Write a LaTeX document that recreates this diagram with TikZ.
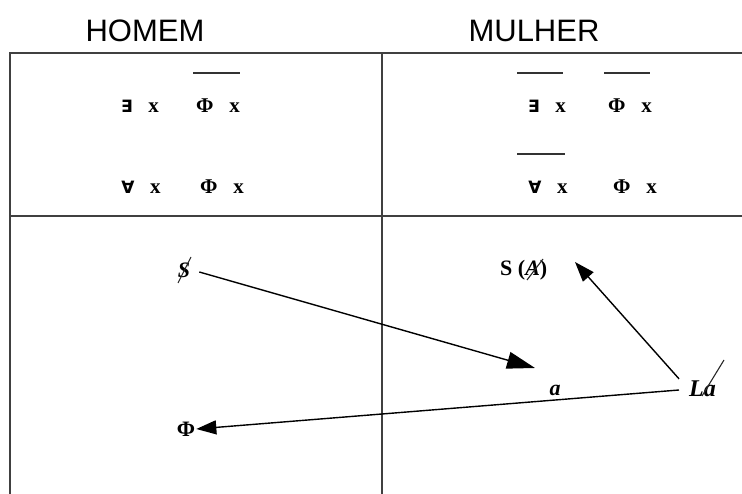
\documentclass[tikz,border=0pt]{standalone}
\usepackage{fontspec}
\setmainfont{Liberation Serif}
\newfontfamily\hdrfont{Liberation Sans}
\newfontfamily\symfont{DejaVu Sans}
\usetikzlibrary{arrows.meta}
\newcommand{\qfont}{\symfont\fontsize{17}{17}\selectfont}
\tikzset{
  grid/.style={draw=black!75,line width=1.6pt},
  hdr/.style={font=\hdrfont\fontsize{31}{31}\selectfont,inner sep=0pt},
  fml/.style={font=\bfseries\fontsize{21}{21}\selectfont,inner sep=0pt},
  bar/.style={draw=black!80,line width=1.3pt},
  lbl/.style={font=\bfseries\fontsize{22}{22}\selectfont,inner sep=1pt},
  arr/.style={draw=black,line width=1.4pt,-{Triangle[length=20pt,width=14pt]}},
  bigarr/.style={draw=black,line width=1.4pt,-{Triangle[length=28pt,width=17pt]}},
  slash/.style={draw=black!85,line width=1.1pt}
}
\begin{document}
\begin{tikzpicture}[x=1pt,y=-1pt]
\useasboundingbox (0,0) rectangle (742,494);
% headers
\node[hdr] (homem) at (145,31) {HOMEM};
\node[hdr] (mulher) at (534,31) {MULHER};
% grid
\coordinate (tl) at (10,53);
\coordinate (tr) at (742,53);
\coordinate (bl) at (10,494);
\coordinate (ml) at (10,216);
\coordinate (mr) at (742,216);
\coordinate (mt) at (382,53);
\coordinate (mb) at (382,494);
\draw[grid] (bl) -- (tl) -- (tr);
\draw[grid] (ml) -- (mr);
\draw[grid] (mt) -- (mb);
% left formulas
\node[fml] (le) at (140,106) {{\qfont ∃}\,\,\, x};
\node[fml] (lp) at (218,106) {Φ\,\,\, x};
\draw[bar] (193,73) -- (240,73);
\node[fml] (la) at (141,187) {{\qfont ∀}\,\,\, x};
\node[fml] (lq) at (222,187) {Φ\,\,\, x};
% right formulas
\node[fml] (re) at (547,106) {{\qfont ∃}\,\,\, x};
\node[fml] (rp) at (630,106) {Φ\,\,\, x};
\draw[bar] (517,73) -- (563,73);
\draw[bar] (604,73) -- (650,73);
\node[fml] (ra) at (548,187) {{\qfont ∀}\,\,\, x};
\node[fml] (rq) at (635,187) {Φ\,\,\, x};
\draw[bar] (517,154) -- (565,154);
% bottom labels
\node[lbl] (S) at (184,270) {\itshape S};
\draw[slash] (178,283) -- (191,257);
\node[lbl,anchor=west] (SA) at (499,270) {S (\textit{A})};
\draw[slash] (527,280) -- (543,259);
\node[lbl] (a) at (555,390) {\itshape a};
\node[lbl,anchor=west,font=\bfseries\fontsize{24}{24}\selectfont] (La) at (688,389) {\itshape La};
\draw[slash] (702,396) -- (724,360);
\node[lbl] (Phi) at (186,429) {Φ};
% arrows
\draw[bigarr] (S.east) ++(8,2) coordinate (s0) -- (535,368) coordinate (a0);
\draw[arr] (La.north west) ++(-9,-1) -- (575,262);
\draw[arr] (La.west) ++(-9,1) -- (Phi.east);
\end{tikzpicture}
\end{document}
